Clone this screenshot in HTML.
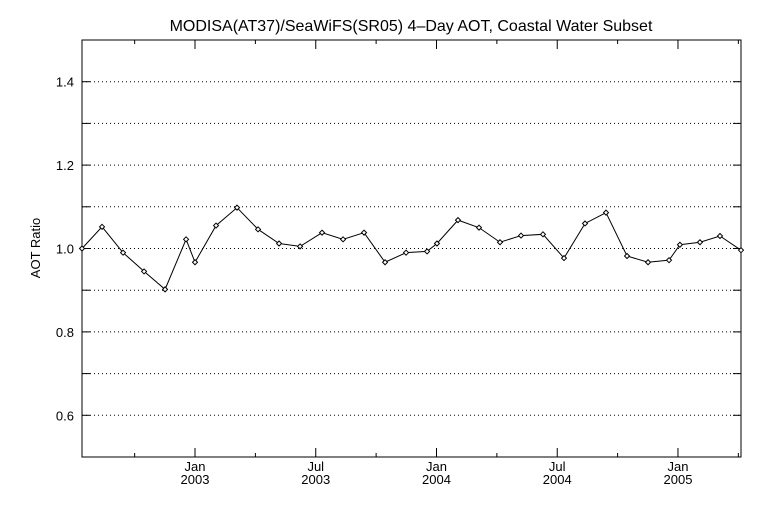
<!DOCTYPE html>
<html><head><meta charset="utf-8"><style>body{margin:0;background:#fff}svg{display:block}</style></head>
<body>
<svg id="chart" width="768" height="512" viewBox="0 0 768 512" xmlns="http://www.w3.org/2000/svg" font-family="Liberation Sans, sans-serif">
<rect width="768" height="512" fill="#fff"/>
<text x="411" y="31" text-anchor="middle" font-size="16">MODISA(AT37)/SeaWiFS(SR05) 4–Day AOT, Coastal Water Subset</text>
<text transform="translate(40,248) rotate(-90)" text-anchor="middle" font-size="13">AOT Ratio</text>
<g id="grid"></g><g id="axes"></g><g id="series"></g>
</svg>
<script>
const dates=[2002.532,2002.615,2002.702,2002.789,2002.876,2002.963,2003.000,2003.087,2003.174,2003.261,2003.348,2003.435,2003.526,2003.613,2003.700,2003.787,2003.874,2003.961,2004.002,2004.089,2004.176,2004.263,2004.350,2004.441,2004.528,2004.615,2004.702,2004.789,2004.876,2004.963,2005.008,2005.091,2005.174,2005.261];
const ratios=[1.000,1.052,0.990,0.945,0.902,1.022,0.967,1.055,1.098,1.046,1.012,1.005,1.038,1.022,1.038,0.967,0.990,0.993,1.012,1.068,1.050,1.015,1.031,1.034,0.977,1.060,1.086,0.982,0.967,0.972,1.009,1.015,1.030,0.996];
const yTicks=[0.6,0.8,1.0,1.2,1.4];
const yGrid=[0.6,0.7,0.8,0.9,1.0,1.1,1.2,1.3,1.4];
const xMajor=[2003.0,2003.5,2004.0,2004.5,2005.0];
const xLabels=[["Jan","2003"],["Jul","2003"],["Jan","2004"],["Jul","2004"],["Jan","2005"]];
const xMinor=[2002.75,2003.25,2003.75,2004.25,2004.75,2005.25];
const L=82,R=741,T=40,B=457,x0=2002.532,x1=2005.261,y0=0.5,y1=1.5;
const X=v=>L+(v-x0)/(x1-x0)*(R-L), Y=v=>B-(v-y0)/(y1-y0)*(B-T);
const NS="http://www.w3.org/2000/svg";
function mk(t,a,p){const e=document.createElementNS(NS,t);for(const k in a)e.setAttribute(k,a[k]);p.appendChild(e);return e;}
const g=document.getElementById('grid'),ax=document.getElementById('axes'),s=document.getElementById('series');
yGrid.forEach(v=>{const l=mk('line',{x1:L,x2:R,y1:Y(v),y2:Y(v),stroke:'#000','stroke-width':1,'stroke-dasharray':'1,3'},g);

[[L,L+8],[R,R-8]].forEach(p=>{const t=mk('line',{x1:p[0],x2:p[1],y1:Y(v),y2:Y(v),stroke:'#000'},ax);});});
yTicks.forEach(v=>{const t=mk('text',{x:L-8,y:Y(v)+5,'text-anchor':'end','font-size':13},ax);t.textContent=v.toFixed(1);
});
const frame=mk('rect',{x:L,y:T,width:R-L,height:B-T,fill:'none',stroke:'#000'},ax);

xMajor.forEach((v,i)=>{[[B,B-9],[T,T+9]].forEach(p=>{const t=mk('line',{x1:X(v),x2:X(v),y1:p[0],y2:p[1],stroke:'#000'},ax);});
const t=mk('text',{x:X(v),y:B+14,'text-anchor':'middle','font-size':13},ax);t.textContent=xLabels[i][0];
const t2=mk('text',{x:X(v),y:B+27,'text-anchor':'middle','font-size':13},ax);t2.textContent=xLabels[i][1];});
xMinor.forEach(v=>{if(v>x1)return;[[B,B-4],[T,T+4]].forEach(p=>{const t=mk('line',{x1:X(v),x2:X(v),y1:p[0],y2:p[1],stroke:'#000'},ax);});});
const pl=mk('polyline',{points:dates.map((d,i)=>X(d)+','+Y(ratios[i])).join(' '),fill:'none',stroke:'#000','stroke-width':1},s);

dates.forEach((d,i)=>{const cx=X(d),cy=Y(ratios[i]),r=2.5;const m=mk('polygon',{points:`${cx},${cy-r} ${cx+r},${cy} ${cx},${cy+r} ${cx-r},${cy}`,fill:'#fff',stroke:'#000','stroke-width':1},s);
});
</script>
</body></html>
